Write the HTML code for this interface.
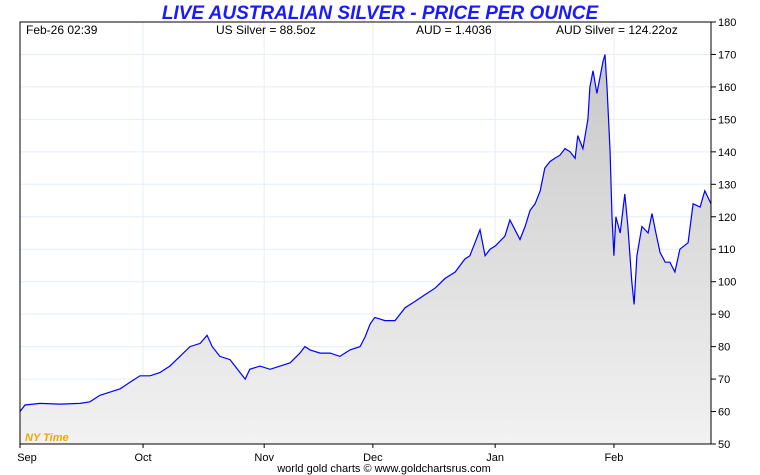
<!DOCTYPE html>
<html><head><meta charset="utf-8"><style>
body{margin:0;background:#fff;font-family:"Liberation Sans",sans-serif}
svg{display:block}
</style></head><body>
<svg id="c" width="760" height="475">
<defs><linearGradient id="g" x1="0" y1="0" x2="0" y2="1"><stop offset="0" stop-color="#c8c8c8"/><stop offset="1" stop-color="#f2f2f2"/></linearGradient></defs>
<text x="380" y="19" text-anchor="middle" font-size="19" font-weight="bold" font-style="italic" fill="#1a1aff">LIVE AUSTRALIAN SILVER - PRICE PER OUNCE</text>
<g id="grid"></g><g id="series"></g><g id="axes"></g>
<g font-size="12" fill="#000">
<text x="26" y="34">Feb-26  02:39</text>
<text x="216" y="34">US Silver = 88.5oz</text>
<text x="416" y="34">AUD = 1.4036</text>
<text x="556" y="34">AUD Silver = 124.22oz</text>
</g>
<text x="25" y="441" font-size="11" font-weight="bold" font-style="italic" fill="#f0a800">NY Time</text>
<text x="384" y="472" text-anchor="middle" font-size="11">world gold charts © www.goldchartsrus.com</text>
</svg>
<script>
const days=[0,1.3,5.2,10.3,15.5,18,20.6,23.2,25.8,28.3,30.9,33.5,36,38.6,41.2,43.8,46.4,48.2,49.5,51.5,54.1,56.7,58,59.2,61.8,64.4,67,69.6,72.1,73.4,74.7,77.3,79.9,82.4,85,87.6,88.9,90.2,91.4,94,96.6,99.2,101.8,104.3,106.9,109.5,112.1,114.6,115.9,117.2,118.5,119.8,121.1,122.4,124.9,126.2,127.5,128.8,130.1,131.4,132.7,134,135.2,136.5,137.8,139.1,140.4,141.7,143,143.7,145,146.3,146.8,147.6,148.6,149.4,150.2,150.7,151.2,152,152.5,153,153.5,154.6,155.8,156.6,157.6,158.2,158.9,160.2,161.8,162.8,163.8,164.9,166.2,167.4,168.7,170,172.1,173.4,175.2,176.4,178];
const prices=[60,62,62.5,62.3,62.5,63,65,66,67,69,71,71,72,74,77,80,81,83.5,80,77,76,72,70,73,74,73,74,75,78,80,79,78,78,77,79,80,83,87,89,88,88,92,94,96,98,101,103,107,108,112,116,108,110,111,114,119,116,113,117,122,124,128,135,137,138,139,141,140,138,145,141,150,160,165,158,163,168,170,160,140,120,108,120,115,127,117,100,93,108,117,115,121,115,109,106,106,103,110,112,124,123,128,124];
const monthLabels=["Sep","Oct","Nov","Dec","Jan","Feb"];
const monthDays=[0,31.7,62.9,90.9,122.4,153];
const yTicks=[50,60,70,80,90,100,110,120,130,140,150,160,170,180];
const L=20,R=711,T=22,B=444,D0=0,D1=178,V0=50,V1=180;
const xs=d=>L+(d-D0)/(D1-D0)*(R-L);
const ys=v=>B-(v-V0)/(V1-V0)*(B-T);
const NS="http://www.w3.org/2000/svg";
function mk(tag,attrs,parent){const e=document.createElementNS(NS,tag);for(const k in attrs)e.setAttribute(k,attrs[k]);parent.appendChild(e);return e;}
const grid=document.getElementById('grid'),ser=document.getElementById('series'),ax=document.getElementById('axes');
mk('rect',{x:L,y:T,width:R-L,height:B-T,fill:'#fff'},grid);
yTicks.forEach(v=>{const l=mk('line',{x1:L,x2:R,y1:ys(v),y2:ys(v),stroke:'#e4eef8','stroke-width':1},grid);


const tk=mk('line',{x1:R,x2:R+5,y1:ys(v),y2:ys(v),stroke:'#000'},ax);


const t=mk('text',{x:R+7,y:ys(v)+4,'font-size':11},ax);t.textContent=v;

});
monthDays.forEach((d,i)=>{const l=mk('line',{x1:xs(d),x2:xs(d),y1:T,y2:B,stroke:'#e4eef8'},grid);


const tk=mk('line',{x1:xs(d),x2:xs(d),y1:B,y2:B+4,stroke:'#000'},ax);


const t=mk('text',{x:xs(d)+(i==0?7:0),y:B+17,'font-size':11,'text-anchor':'middle'},ax);t.textContent=monthLabels[i];

});
let p=days.map((d,i)=>xs(d).toFixed(1)+','+ys(prices[i]).toFixed(1)).join(' L');
const area=mk('path',{d:'M'+xs(days[0])+','+B+' L'+p+' L'+xs(days[days.length-1])+','+B+' Z',fill:'url(#g)'},ser);


const line=mk('path',{d:'M'+p,fill:'none',stroke:'#0000ff','stroke-width':1.2},ser);


const fr=mk('rect',{x:L,y:T,width:R-L,height:B-T,fill:'none',stroke:'#000','stroke-width':1},ax);


</script>
</body></html>
